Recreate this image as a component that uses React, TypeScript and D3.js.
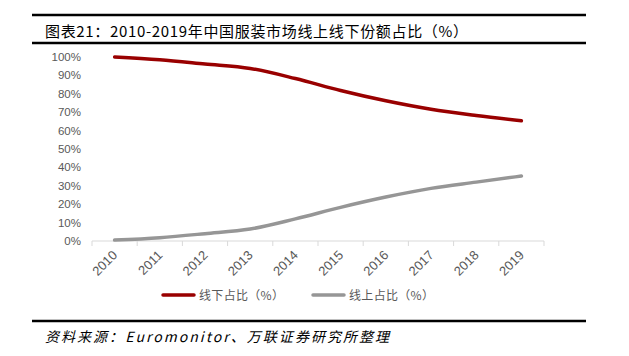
import React from "react";
import * as d3 from "d3";

const years = ["2010", "2011", "2012", "2013", "2014", "2015", "2016", "2017", "2018", "2019"];
const offline = [100, 98.5, 96.2, 93.8, 88.3, 81.8, 76.2, 71.6, 68.2, 65.3];
const online = [0.5, 1.8, 4.0, 6.5, 12.0, 18.3, 23.9, 28.6, 32.0, 35.3];
const yTicks = [0, 10, 20, 30, 40, 50, 60, 70, 80, 90, 100];
const seriesNames = ["线下占比（%）", "线上占比（%）"];
const title = "图表21：2010-2019年中国服装市场线上线下份额占比（%）";
const source = "资料来源：Euromonitor、万联证券研究所整理";

const W = 629;
const H = 356;
const colors = ["#990000", "#969696"];
const font = "'Noto Sans CJK SC', 'Noto Sans', sans-serif";

export default function App() {
  const x = d3.scaleBand<string>().domain(years).range([92, 544]);
  const y = d3.scaleLinear().domain([0, 100]).range([241, 57]);
  const line = d3
    .line<number>()
    .x((_, i) => (x(years[i]) as number) + x.bandwidth() / 2)
    .y((d) => y(d))
    .curve(d3.curveMonotoneX);
  const series = [offline, online];
  const tickXs = years.map((yr) => x(yr) as number).concat([544]);

  return (
    <svg
      width={W}
      height={H}
      style={{ position: "absolute", left: 0, top: 0, background: "#fff" }}
      fontFamily={font}
    >
      <rect width={W} height={H} fill="#fff" />
      {/* title */}
      <line x1={32} x2={586} y1={15} y2={15} stroke="#000" strokeWidth={2.5} />
      <text x={45} y={37} fontSize={15} fill="#000" textLength={423} lengthAdjust="spacing">{title}</text>
      <line x1={32} x2={586} y1={43} y2={43} stroke="#000" strokeWidth={2.5} />

      {/* y axis labels */}
      {yTicks.map((t) => (
        <text key={t} x={81} y={y(t) + 4} fontSize={11.5} fill="#595959" textAnchor="end"
          fontFamily="'Liberation Sans', Arial, sans-serif">
          {t}%
        </text>
      ))}

      {/* x axis */}
      <line x1={92} x2={544} y1={241} y2={241} stroke="#d9d9d9" strokeWidth={1} />
      {tickXs.map((tx, i) => (
        <line key={i} x1={tx} x2={tx} y1={241} y2={246} stroke="#d9d9d9" strokeWidth={1} />
      ))}
      {years.map((yr) => {
        const cx = (x(yr) as number) + x.bandwidth() / 2 + 3.5;
        const cy = 256;
        return (
          <text key={yr} x={cx} y={cy} fontSize={13} fill="#595959" textAnchor="end"
            fontFamily="'Liberation Sans', Arial, sans-serif"
            transform={`rotate(-45, ${cx}, ${cy})`}>
            {yr}
          </text>
        );
      })}

      {/* lines */}
      {series.map((s, i) => (
        <path key={i} d={line(s) || ""} fill="none" stroke={colors[i]} strokeWidth={3.5} strokeLinecap="round" />
      ))}

      {/* legend */}
      {seriesNames.map((n, i) => {
        const lx = i === 0 ? 163 : 313;
        return (
          <g key={n}>
            <line x1={lx} x2={lx + 31} y1={295} y2={295} stroke={colors[i]} strokeWidth={3.5} strokeLinecap="round" />
            <text x={lx + 36} y={299.5} fontSize={12} fill="#595959" textLength={85} lengthAdjust="spacing">{n}</text>
          </g>
        );
      })}

      {/* footer */}
      <line x1={32} x2={586} y1={321} y2={321} stroke="#000" strokeWidth={2.5} />
      <text x={45} y={342} fontSize={14} fill="#000" fontStyle="italic" textLength={344} lengthAdjust="spacing">{source}</text>
    </svg>
  );
}
